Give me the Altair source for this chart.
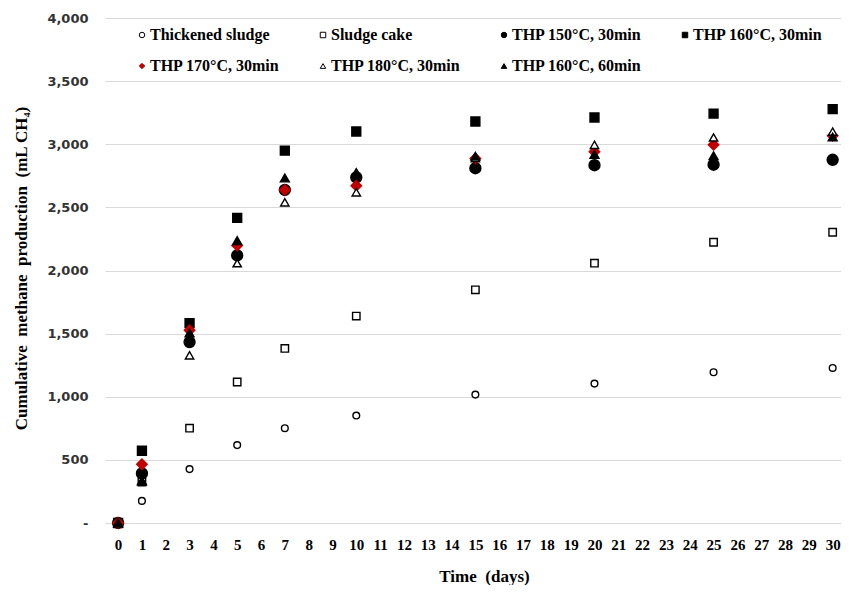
import altair as alt
import pandas as pd

days = [0, 1, 3, 5, 7, 10, 15, 20, 25, 30]
series_names = [
    "Thickened sludge",
    "Sludge cake",
    "THP 150°C, 30min",
    "THP 160°C, 30min",
    "THP 170°C, 30min",
    "THP 180°C, 30min",
    "THP 160°C, 60min",
]
thickened = [0, 175, 427, 617, 751, 851, 1017, 1104, 1194, 1228]
cake = [0, 325, 751, 1117, 1383, 1639, 1847, 2058, 2224, 2303]
thp150_30 = [0, 393, 1433, 2119, 2638, 2738, 2810, 2834, 2838, 2877]
thp160_30 = [0, 572, 1583, 2417, 2949, 3101, 3180, 3212, 3243, 3278]
thp170_30 = [0, 466, 1526, 2198, 2638, 2672, 2888, 2941, 2996, 3067]
thp180_30 = [0, 330, 1328, 2058, 2540, 2619, 2890, 2995, 3054, 3100]
thp160_60 = [0, 335, 1505, 2237, 2733, 2777, 2905, 2920, 2909, 3058]
all_vals = [thickened, cake, thp150_30, thp160_30, thp170_30, thp180_30, thp160_60]

x_ticks = list(range(31))
y_ticks = list(range(0, 4001, 500))

rows = []
for name, vals in zip(series_names, all_vals):
    for d, v in zip(days, vals):
        rows.append({"series": name, "day": d, "value": v})
df = pd.DataFrame(rows)

shapes = ["circle", "square", "circle", "square", "diamond", "triangle-up", "triangle-up"]
fills = ["white", "white", "black", "black", "#c00000", "white", "black"]
strokes = ["black", "black", "black", "black", "#c00000", "black", "black"]
sizes = [45, 55, 120, 80, 110, 70, 80]

serif = "Liberation Serif"

legend = alt.Legend(
    orient="none",
    legendX=29,
    legendY=9,
    direction="horizontal",
    columns=4,
    gridAlign="all",
    columnPadding=35,
    rowPadding=15,
    labelFont=serif,
    labelFontWeight="bold",
    labelFontSize=16,
    labelColor="black",
    labelOffset=0,
    symbolSize=30,
    symbolStrokeWidth=1,
    labelLimit=300,
)

x_enc = alt.X(
    "day:Q",
    scale=alt.Scale(domain=[-0.55, 30.35], nice=False, zero=False),
    axis=alt.Axis(
        values=x_ticks,
        title="Time\u00a0\u00a0(days)",
        grid=False,
        ticks=False,
        domain=False,
        labelFont=serif,
        labelFontWeight="bold",
        labelFontSize=15,
        labelColor="black",
        labelPadding=14,
        titleFont=serif,
        titleFontSize=17,
        titleFontWeight="bold",
        titleColor="black",
        titleX=379,
        titleY=53,
        titleBaseline="middle",
        titleAlign="center",
    ),
)
y_enc = alt.Y(
    "value:Q",
    scale=alt.Scale(domain=[0, 4000], nice=False),
    axis=alt.Axis(
        values=y_ticks,
        labelExpr="datum.value == 0 ? '-' : format(datum.value, ',')",
        title="Cumulative\u00a0\u00a0methane\u00a0\u00a0production\u00a0\u00a0(mL CH\u2084)",
        grid=True,
        gridColor="#d9d9d9",
        gridWidth=1,
        ticks=False,
        domain=False,
        labelFont="DejaVu Sans",
        labelFontWeight="bold",
        labelFontSize=13,
        labelColor="#333333",
        labelPadding=17,
        titleFont=serif,
        titleFontSize=17,
        titleFontWeight="bold",
        titleColor="black",
        titleAngle=-90,
        titleX=-84,
        titleY=250,
        titleBaseline="middle",
        titleAlign="center",
    ),
)

base = alt.Chart(df).encode(
    x=x_enc,
    y=y_enc,
    shape=alt.Shape("series:N", title="", scale=alt.Scale(domain=series_names, range=shapes), legend=legend),
    fill=alt.Fill("series:N", title="", scale=alt.Scale(domain=series_names, range=fills), legend=legend),
    stroke=alt.Stroke("series:N", title="", scale=alt.Scale(domain=series_names, range=strokes), legend=legend),
)

layers = [
    base.transform_filter(alt.datum.series == name).mark_point(
        size=s, opacity=1, fillOpacity=1, strokeWidth=1.4
    )
    for name, s in zip(series_names, sizes)
]

chart = alt.layer(*layers).properties(
    width=736,
    height=505,
    autosize=alt.AutoSizeParams(type="none"),
    padding={"left": 97, "top": 10, "right": 0, "bottom": 62},
    background="white",
).configure_view(stroke=None)

chart.save("out.html", embed_options={"renderer": "svg", "actions": False})
